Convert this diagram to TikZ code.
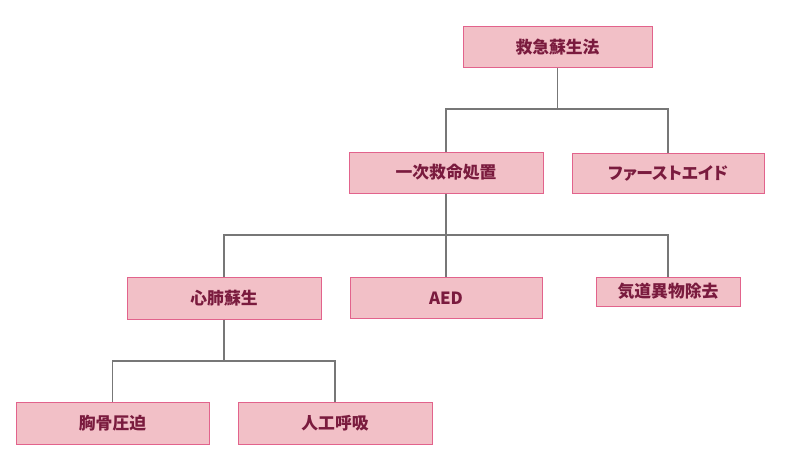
\documentclass[tikz,border=0pt]{standalone}
\usepackage{fontspec}
\newfontfamily\jp{Noto Sans CJK JP}
\newfontfamily\jpp[RawFeature=+palt]{Noto Sans CJK JP}
\definecolor{boxfill}{HTML}{F2C0C7}
\definecolor{boxline}{HTML}{E2638C}
\definecolor{boxtext}{HTML}{7A1B3E}
\definecolor{conn}{HTML}{777777}
\begin{document}
\begin{tikzpicture}[x=1pt,y=-1pt,
  box/.style={draw=boxline,fill=boxfill,line width=1pt,rectangle,inner sep=0pt,
    text=boxtext,font=\jp\bfseries\fontsize{16.8}{18}\selectfont},
  conline/.style={draw=conn,line width=1.2pt}]
\useasboundingbox[fill=white] (0,0) rectangle (800,460);
\node[box,minimum width=189pt,minimum height=41pt] (root) at (557.5,47.5) {救急蘇生法};
\node[box,minimum width=194pt,minimum height=41pt] (ichiji) at (446,172.5) {一次救命処置};
\node[box,minimum width=192pt,minimum height=40pt,font=\jpp\bfseries\fontsize{16.8}{18}\selectfont] (fa) at (668,173) {ファーストエイド};
\node[box,minimum width=194pt,minimum height=42pt] (shinpai) at (224,298) {心肺蘇生};
\node[box,minimum width=192pt,minimum height=41pt] (aed) at (446,298) {AED};
\node[box,minimum width=144pt,minimum height=29pt] (kido) at (668,291.5) {気道異物除去};
\node[box,minimum width=193pt,minimum height=42pt] (kyokotsu) at (112.5,423) {胸骨圧迫};
\node[box,minimum width=194pt,minimum height=42pt] (jinko) at (335,423) {人工呼吸};
\coordinate (j1) at (557.5,109);
\coordinate (j2) at (446,235);
\coordinate (j3) at (224,361);
\draw[conline] (root.south) -- (j1);
\draw[conline] (ichiji.north) |- (j1) -| (fa.north);
\draw[conline] (ichiji.south) -- (aed.north);
\draw[conline] (shinpai.north) |- (j2) -| (kido.north);
\draw[conline] (shinpai.south) -- (j3);
\draw[conline] (kyokotsu.north) |- (j3) -| (jinko.north);
\end{tikzpicture}
\end{document}
